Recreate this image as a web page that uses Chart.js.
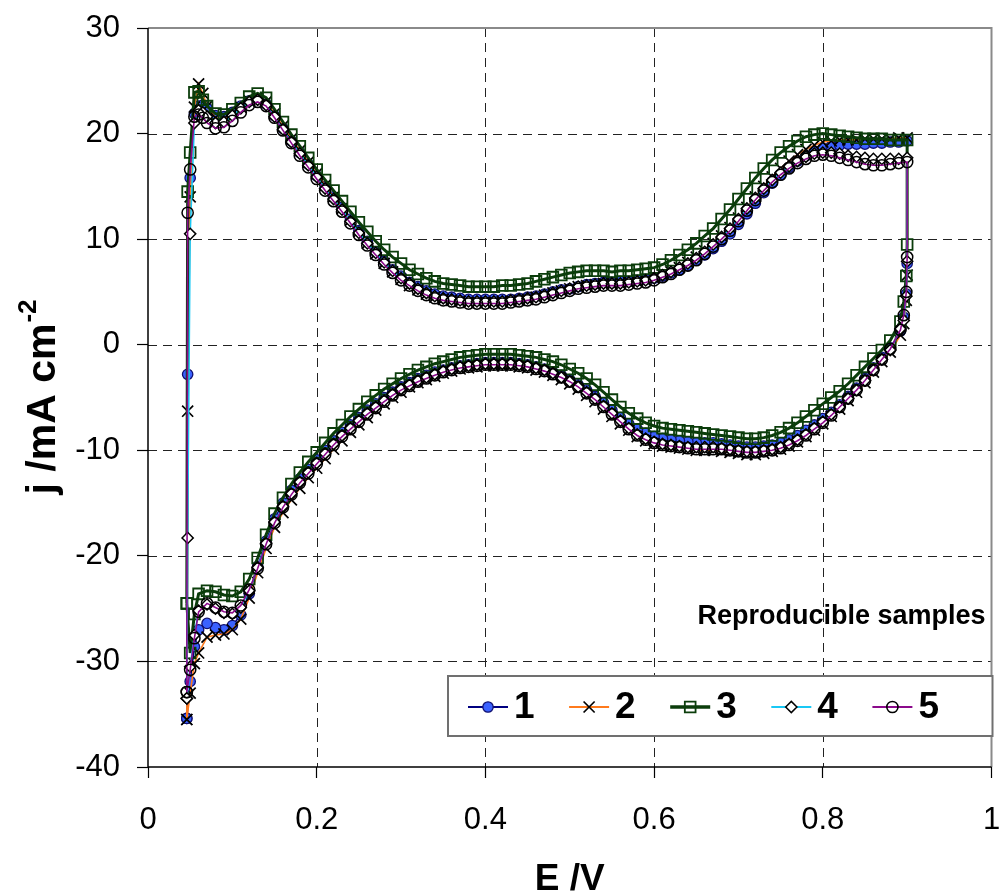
<!DOCTYPE html>
<html>
<head>
<meta charset="utf-8">
<title>Cyclic voltammograms</title>
<script src="https://cdn.jsdelivr.net/npm/chart.js@4.4.0/dist/chart.umd.min.js"></script>
<style>
  html, body { margin: 0; padding: 0; background: #fff; }
  #wrap { width: 1001px; height: 894px; }
</style>
</head>
<body>
<div id="wrap"><canvas id="cv" width="1001" height="894"></canvas></div>
<script>
'use strict';

var seriesNames = ['1', '2', '3', '4', '5'];
var xTickValues = [0, 0.2, 0.4, 0.6, 0.8, 1];
var xTickLabels = ['0', '0.2', '0.4', '0.6', '0.8', '1'];
var yTickValues = [-40, -30, -20, -10, 0, 10, 20, 30];
var yTickLabels = ['-40', '-30', '-20', '-10', '0', '10', '20', '30'];

// potential of each sample, forward (anodic) then reverse (cathodic) sweep, V
var eForward = [0.046, 0.047, 0.05, 0.055, 0.06, 0.065, 0.07, 0.08, 0.09, 0.10,
  0.11, 0.12, 0.13, 0.14, 0.15, 0.16, 0.17, 0.18, 0.19, 0.20,
  0.21, 0.22, 0.23, 0.24, 0.25, 0.26, 0.27, 0.28, 0.29, 0.30,
  0.31, 0.32, 0.33, 0.34, 0.35, 0.36, 0.37, 0.38, 0.39, 0.40,
  0.41, 0.42, 0.43, 0.44, 0.45, 0.46, 0.47, 0.48, 0.49, 0.50,
  0.51, 0.52, 0.53, 0.54, 0.55, 0.56, 0.57, 0.58, 0.59, 0.60,
  0.61, 0.62, 0.63, 0.64, 0.65, 0.66, 0.67, 0.68, 0.69, 0.70,
  0.71, 0.72, 0.73, 0.74, 0.75, 0.76, 0.77, 0.78, 0.79, 0.80,
  0.81, 0.82, 0.83, 0.84, 0.85, 0.86, 0.87, 0.88, 0.89, 0.90];
var eReverse = [0.90, 0.899, 0.896, 0.892, 0.88, 0.87, 0.86, 0.85, 0.84, 0.83,
  0.82, 0.81, 0.80, 0.79, 0.78, 0.77, 0.76, 0.75, 0.74, 0.73,
  0.72, 0.71, 0.70, 0.69, 0.68, 0.67, 0.66, 0.65, 0.64, 0.63,
  0.62, 0.61, 0.60, 0.59, 0.58, 0.57, 0.56, 0.55, 0.54, 0.53,
  0.52, 0.51, 0.50, 0.49, 0.48, 0.47, 0.46, 0.45, 0.44, 0.43,
  0.42, 0.41, 0.40, 0.39, 0.38, 0.37, 0.36, 0.35, 0.34, 0.33,
  0.32, 0.31, 0.30, 0.29, 0.28, 0.27, 0.26, 0.25, 0.24, 0.23,
  0.22, 0.21, 0.20, 0.19, 0.18, 0.17, 0.16, 0.15, 0.14, 0.13,
  0.12, 0.11, 0.10, 0.09, 0.08, 0.07, 0.06, 0.055, 0.05, 0.046];

// current density, mA cm-2
var jForward1 = [-35.4, -2.8, 15.8, 21.9, 22.6, 22.7, 22.4, 21.7, 21.6, 22.0,
  22.6, 23.1, 23.3, 22.8, 21.7, 20.5, 19.3, 18.2, 17.1, 16.0,
  15.0, 14.0, 13.0, 11.9, 10.8, 9.8, 8.8, 7.9, 7.1, 6.5,
  5.9, 5.5, 5.1, 4.8, 4.6, 4.5, 4.4, 4.3, 4.3, 4.3,
  4.3, 4.3, 4.3, 4.4, 4.5, 4.6, 4.8, 5.0, 5.2, 5.3,
  5.5, 5.7, 5.8, 5.9, 5.9, 6.0, 6.0, 6.1, 6.2, 6.3,
  6.5, 6.8, 7.1, 7.5, 8.0, 8.5, 9.1, 9.8, 10.5, 11.4,
  12.4, 13.4, 14.4, 15.3, 16.1, 16.8, 17.4, 17.9, 18.3, 18.6,
  18.8, 18.9, 19.0, 19.0, 19.0, 19.1, 19.1, 19.2, 19.2, 19.3];
var jReverse1 = [7.7, 4.8, 2.6, 1.3, -0.3, -1.2, -2.2, -3.2, -4.1, -4.9,
  -5.7, -6.4, -7.0, -7.6, -8.1, -8.6, -9.0, -9.3, -9.5, -9.6,
  -9.7, -9.7, -9.6, -9.5, -9.4, -9.3, -9.3, -9.3, -9.2, -9.1,
  -9.0, -8.9, -8.7, -8.4, -8.0, -7.5, -6.9, -6.2, -5.5, -4.9,
  -4.3, -3.8, -3.3, -2.9, -2.6, -2.3, -2.1, -1.9, -1.8, -1.7,
  -1.7, -1.7, -1.7, -1.8, -1.9, -2.0, -2.2, -2.4, -2.6, -2.9,
  -3.2, -3.6, -4.0, -4.5, -5.0, -5.6, -6.2, -6.9, -7.6, -8.3,
  -9.1, -10.0, -10.9, -11.8, -12.7, -13.8, -15.0, -16.5, -18.6, -21.0,
  -23.6, -25.6, -26.6, -27.0, -26.8, -26.4, -27.0, -28.6, -31.9, -35.4];

var jForward2 = [-35.5, -6.3, 14.0, 22.5, 24.7, 23.8, 22.6, 21.5, 21.4, 21.9,
  22.5, 23.1, 23.4, 23.0, 21.9, 20.7, 19.5, 18.4, 17.3, 16.2,
  15.1, 14.0, 12.9, 11.8, 10.7, 9.6, 8.6, 7.7, 6.9, 6.2,
  5.6, 5.2, 4.8, 4.5, 4.3, 4.2, 4.1, 4.0, 4.0, 4.0,
  4.0, 4.1, 4.1, 4.2, 4.3, 4.5, 4.7, 4.9, 5.1, 5.3,
  5.5, 5.6, 5.7, 5.8, 5.8, 5.9, 5.9, 6.0, 6.1, 6.3,
  6.6, 6.9, 7.3, 7.8, 8.3, 8.9, 9.6, 10.3, 11.1, 12.0,
  13.0, 14.0, 15.0, 15.9, 16.7, 17.4, 18.0, 18.5, 18.9, 19.2,
  19.3, 19.4, 19.4, 19.4, 19.5, 19.5, 19.5, 19.5, 19.6, 19.6];
var jReverse2 = [6.6, 4.2, 2.0, 0.9, -0.7, -1.6, -2.6, -3.6, -4.5, -5.3,
  -6.1, -6.8, -7.5, -8.1, -8.7, -9.2, -9.6, -9.9, -10.1, -10.3,
  -10.4, -10.4, -10.3, -10.2, -10.1, -10.0, -10.0, -10.0, -9.9, -9.8,
  -9.7, -9.6, -9.4, -9.1, -8.7, -8.1, -7.5, -6.8, -6.1, -5.4,
  -4.8, -4.2, -3.7, -3.3, -2.9, -2.6, -2.4, -2.2, -2.1, -2.0,
  -2.0, -2.0, -2.0, -2.1, -2.2, -2.3, -2.5, -2.7, -3.0, -3.3,
  -3.6, -4.0, -4.5, -5.0, -5.6, -6.2, -6.9, -7.6, -8.3, -9.1,
  -9.9, -10.8, -11.7, -12.6, -13.6, -14.7, -15.9, -17.3, -19.3, -21.6,
  -24.0, -26.0, -27.0, -27.4, -27.5, -27.7, -29.2, -30.2, -33.0, -35.5];

var jForward3 = [-24.5, 14.5, 18.2, 23.9, 24.0, 23.2, 22.6, 21.9, 21.8, 22.3,
  22.9, 23.5, 23.8, 23.4, 22.3, 21.1, 19.9, 18.8, 17.7, 16.6,
  15.6, 14.6, 13.6, 12.6, 11.6, 10.7, 9.8, 9.0, 8.3, 7.7,
  7.1, 6.7, 6.3, 6.0, 5.8, 5.7, 5.6, 5.5, 5.5, 5.5,
  5.5, 5.6, 5.6, 5.7, 5.8, 6.0, 6.2, 6.4, 6.6, 6.8,
  6.9, 7.0, 7.0, 7.0, 6.9, 7.0, 7.0, 7.1, 7.2, 7.3,
  7.6, 8.0, 8.5, 9.0, 9.6, 10.3, 11.0, 11.9, 12.8, 13.8,
  14.8, 15.8, 16.7, 17.5, 18.2, 18.8, 19.3, 19.7, 19.9, 20.0,
  19.9, 19.8, 19.7, 19.6, 19.5, 19.5, 19.5, 19.4, 19.4, 19.4];
var jReverse3 = [9.5, 6.5, 4.1, 2.2, 0.4, -0.5, -1.3, -2.1, -2.9, -3.7,
  -4.4, -5.0, -5.6, -6.2, -6.8, -7.4, -7.9, -8.3, -8.6, -8.8,
  -8.9, -8.9, -8.8, -8.7, -8.6, -8.5, -8.4, -8.3, -8.2, -8.1,
  -8.0, -7.9, -7.7, -7.4, -7.0, -6.5, -5.9, -5.2, -4.5, -3.8,
  -3.2, -2.7, -2.3, -1.9, -1.6, -1.4, -1.2, -1.1, -1.0, -0.9,
  -0.9, -0.9, -0.9, -1.0, -1.1, -1.2, -1.4, -1.6, -1.8, -2.1,
  -2.4, -2.8, -3.2, -3.7, -4.2, -4.8, -5.4, -6.1, -6.8, -7.6,
  -8.4, -9.3, -10.2, -11.1, -12.1, -13.2, -14.5, -16.0, -18.0, -20.2,
  -22.2, -23.4, -23.8, -23.7, -23.4, -23.3, -23.6, -25.5, -29.2, -24.5];

var jForward4 = [-33.5, -18.3, 10.5, 21.0, 22.2, 22.0, 21.6, 21.0, 21.1, 21.7,
  22.4, 23.0, 23.2, 22.7, 21.6, 20.4, 19.2, 18.1, 17.0, 15.9,
  14.8, 13.8, 12.8, 11.7, 10.6, 9.6, 8.7, 7.8, 7.0, 6.3,
  5.8, 5.3, 4.9, 4.6, 4.4, 4.3, 4.2, 4.1, 4.1, 4.1,
  4.1, 4.1, 4.2, 4.3, 4.4, 4.5, 4.7, 4.9, 5.1, 5.3,
  5.5, 5.6, 5.7, 5.8, 5.8, 5.8, 5.9, 6.0, 6.1, 6.3,
  6.6, 6.9, 7.3, 7.7, 8.2, 8.8, 9.5, 10.2, 11.0, 11.9,
  12.9, 13.9, 14.8, 15.6, 16.3, 16.9, 17.4, 17.8, 18.1, 18.2,
  18.2, 18.1, 17.9, 17.8, 17.7, 17.6, 17.6, 17.6, 17.6, 17.7];
var jReverse4 = [7.9, 4.6, 2.3, 1.5, -0.5, -1.4, -2.4, -3.4, -4.3, -5.1,
  -5.9, -6.6, -7.3, -7.9, -8.5, -9.0, -9.4, -9.7, -9.9, -10.0,
  -10.1, -10.1, -10.0, -9.9, -9.8, -9.7, -9.7, -9.7, -9.7, -9.6,
  -9.5, -9.4, -9.2, -8.9, -8.5, -7.9, -7.2, -6.5, -5.8, -5.1,
  -4.5, -4.0, -3.5, -3.1, -2.7, -2.4, -2.2, -2.0, -1.9, -1.8,
  -1.8, -1.8, -1.8, -1.9, -2.0, -2.1, -2.3, -2.5, -2.8, -3.1,
  -3.4, -3.8, -4.2, -4.7, -5.3, -5.9, -6.5, -7.2, -7.9, -8.6,
  -9.4, -10.3, -11.2, -12.1, -13.0, -14.1, -15.3, -16.8, -18.8, -21.1,
  -23.3, -24.9, -25.5, -25.4, -25.0, -24.6, -25.2, -27.5, -30.5, -33.5];

var jForward5 = [-32.9, 12.5, 16.6, 21.6, 21.8, 21.5, 21.0, 20.5, 20.6, 21.2,
  22.0, 22.7, 23.0, 22.6, 21.5, 20.3, 19.1, 17.9, 16.8, 15.7,
  14.6, 13.6, 12.6, 11.5, 10.4, 9.4, 8.5, 7.6, 6.8, 6.1,
  5.6, 5.1, 4.7, 4.4, 4.2, 4.1, 4.0, 3.9, 3.9, 3.9,
  3.9, 3.9, 4.0, 4.1, 4.2, 4.3, 4.5, 4.7, 4.9, 5.1,
  5.3, 5.4, 5.5, 5.6, 5.6, 5.6, 5.7, 5.8, 5.9, 6.1,
  6.4, 6.7, 7.1, 7.5, 8.0, 8.6, 9.3, 10.0, 10.8, 11.7,
  12.7, 13.7, 14.6, 15.4, 16.1, 16.7, 17.2, 17.6, 17.9, 18.0,
  17.9, 17.7, 17.5, 17.3, 17.1, 17.0, 17.0, 17.1, 17.2, 17.3];
var jReverse5 = [8.3, 5.0, 2.8, 1.4, -0.4, -1.4, -2.4, -3.4, -4.3, -5.1,
  -5.9, -6.7, -7.4, -8.0, -8.6, -9.1, -9.5, -9.8, -10.0, -10.1,
  -10.2, -10.2, -10.1, -10.0, -9.9, -9.9, -9.9, -9.9, -9.8, -9.7,
  -9.6, -9.5, -9.3, -9.0, -8.6, -8.0, -7.3, -6.6, -5.9, -5.2,
  -4.6, -4.0, -3.5, -3.1, -2.8, -2.5, -2.3, -2.1, -2.0, -1.9,
  -1.9, -1.9, -1.9, -2.0, -2.1, -2.2, -2.4, -2.6, -2.9, -3.2,
  -3.5, -3.9, -4.3, -4.8, -5.4, -6.0, -6.6, -7.3, -8.0, -8.7,
  -9.5, -10.4, -11.3, -12.2, -13.1, -14.2, -15.4, -16.9, -18.9, -21.2,
  -23.2, -24.7, -25.4, -25.3, -24.9, -24.5, -25.3, -27.8, -30.8, -32.9];

var FONT = '"Liberation Sans", Arial, Helvetica, sans-serif';
var PLOT = {left: 148, top: 28, right: 992, bottom: 767};

function sweep(forward, reverse) {
  var pts = eForward.map(function(e, i) {
    return {x: e, y: forward[i]};
  });
  return pts.concat(eReverse.map(function(e, i) {
    return {x: e, y: reverse[i]};
  }));
}

var styles = [
  {line: '#000080', width: 1.6, point: 'circle', radius: 5.2, fill: '#3b62ff', edge: '#101070', edgeWidth: 1.3},
  {line: '#ff7a1c', width: 1.6, point: 'crossRot', radius: 7.8, fill: '#000', edge: '#000', edgeWidth: 1.7},
  {line: '#0b3d0b', width: 3, point: 'rect', radius: 7.6, fill: 'rgba(0,0,0,0)', edge: '#0b3d0b', edgeWidth: 1.8},
  {line: '#19c8f5', width: 1.6, point: 'rectRot', radius: 5.6, fill: '#fff', edge: '#000', edgeWidth: 1.5},
  {line: '#8b0a8b', width: 1.6, point: 'circle', radius: 5.6, fill: 'rgba(0,0,0,0)', edge: '#000', edgeWidth: 1.5}
];

var sweeps = [
  sweep(jForward1, jReverse1),
  sweep(jForward2, jReverse2),
  sweep(jForward3, jReverse3),
  sweep(jForward4, jReverse4),
  sweep(jForward5, jReverse5)
];

var datasets = sweeps.map(function(data, i) {
  var s = styles[i];
  return {
    label: seriesNames[i],
    data: data,
    showLine: true,
    fill: false,
    tension: 0,
    borderColor: s.line,
    borderWidth: s.width,
    pointStyle: s.point,
    pointRadius: s.radius,
    pointBackgroundColor: s.fill,
    pointBorderColor: s.edge,
    pointBorderWidth: s.edgeWidth,
    order: seriesNames.length - i
  };
});

function noScalePadding(scale) {
  scale.paddingLeft = 0;
  scale.paddingRight = 0;
  scale.paddingTop = 0;
  scale.paddingBottom = 0;
}

// dashed grid plus the Excel-like plot frame
var frame = {
  id: 'frame',
  beforeDatasetsDraw: function(chart) {
    var ctx = chart.ctx;
    var a = chart.chartArea;
    var sx = chart.scales.x, sy = chart.scales.y;
    ctx.save();
    ctx.strokeStyle = '#222';
    ctx.lineWidth = 1;
    ctx.setLineDash([9, 6]);
    xTickValues.slice(1, -1).forEach(function(v) {
      var px = Math.round(sx.getPixelForValue(v)) + 0.5;
      ctx.beginPath();
      ctx.moveTo(px, a.top);
      ctx.lineTo(px, a.bottom);
      ctx.stroke();
    });
    yTickValues.slice(1, -1).forEach(function(v) {
      var py = Math.round(sy.getPixelForValue(v)) + 0.5;
      ctx.beginPath();
      ctx.moveTo(a.left, py);
      ctx.lineTo(a.right, py);
      ctx.stroke();
    });
    ctx.setLineDash([]);
    ctx.strokeStyle = '#8a8a8a';
    ctx.lineWidth = 2;
    ctx.beginPath();
    ctx.moveTo(a.left, a.top);
    ctx.lineTo(a.right, a.top);
    ctx.lineTo(a.right, a.bottom);
    ctx.stroke();
    ctx.strokeStyle = '#000';
    ctx.lineWidth = 1.5;
    ctx.beginPath();
    ctx.moveTo(a.left, a.top);
    ctx.lineTo(a.left, a.bottom);
    ctx.lineTo(a.right, a.bottom);
    ctx.stroke();
    ctx.restore();
  },
  afterDraw: function(chart) {
    var ctx = chart.ctx;
    var a = chart.chartArea;
    ctx.save();

    // axis titles
    ctx.fillStyle = '#000';
    ctx.font = 'bold 37px ' + FONT;
    ctx.textAlign = 'center';
    ctx.textBaseline = 'alphabetic';
    ctx.fillText('E /V', (a.left + a.right) / 2, 890);

    ctx.translate(44, (a.top + a.bottom) / 2);
    ctx.rotate(-Math.PI / 2);
    var main = 'j /mA cm';
    var sup = '-2';
    ctx.font = 'bold 41px ' + FONT;
    var w1 = ctx.measureText(main).width;
    ctx.font = 'bold 26px ' + FONT;
    var w2 = ctx.measureText(sup).width;
    var x0 = -(w1 + w2) / 2;
    ctx.textAlign = 'left';
    ctx.textBaseline = 'middle';
    ctx.font = 'bold 41px ' + FONT;
    ctx.fillText(main, x0, 0);
    ctx.font = 'bold 26px ' + FONT;
    ctx.fillText(sup, x0 + w1 + 1, -15);
    ctx.setTransform(1, 0, 0, 1, 0, 0);

    // note above the legend
    ctx.font = 'bold 27px ' + FONT;
    ctx.textAlign = 'right';
    ctx.textBaseline = 'middle';
    ctx.fillText('Reproducible samples', a.right - 6, 617);

    // legend box
    var bx = 448, by = 676, bw = a.right + 1 - bx, bh = 60;
    ctx.fillStyle = '#fff';
    ctx.fillRect(bx, by, bw, bh);
    ctx.strokeStyle = '#707070';
    ctx.lineWidth = 2;
    ctx.strokeRect(bx, by, bw, bh);
    var cy = by + 31;
    seriesNames.forEach(function(name, i) {
      var s = styles[i];
      var lx = 468 + i * 101.1;
      ctx.strokeStyle = s.line;
      ctx.lineWidth = s.width + 0.4;
      ctx.beginPath();
      ctx.moveTo(lx, cy);
      ctx.lineTo(lx + 40, cy);
      ctx.stroke();
      ctx.fillStyle = s.fill;
      ctx.strokeStyle = s.edge;
      ctx.lineWidth = s.edgeWidth;
      Chart.helpers.drawPoint(ctx, {
        pointStyle: s.point,
        radius: s.radius,
        borderWidth: s.edgeWidth,
        rotation: 0
      }, lx + 20, cy);
      ctx.fillStyle = '#000';
      ctx.font = 'bold 37px ' + FONT;
      ctx.textAlign = 'left';
      ctx.textBaseline = 'middle';
      ctx.fillText(name, lx + 46, cy + 1);
    });
    ctx.restore();
  }
};

var chart = new Chart(document.getElementById('cv').getContext('2d'), {
  type: 'scatter',
  data: {datasets: datasets},
  options: {
    responsive: false,
    animation: false,
    devicePixelRatio: 1,
    layout: {padding: {top: PLOT.top, right: 1001 - PLOT.right, left: 0, bottom: 0}},
    plugins: {
      legend: {display: false},
      tooltip: {enabled: false}
    },
    scales: {
      x: {
        type: 'linear',
        min: 0,
        max: 1,
        afterBuildTicks: function(scale) {
          scale.ticks = xTickValues.map(function(v) { return {value: v}; });
        },
        afterFit: function(scale) {
          scale.height = 894 - PLOT.bottom;
          noScalePadding(scale);
        },
        ticks: {
          color: '#000',
          font: {family: FONT, size: 31},
          padding: 24,
          maxRotation: 0,
          callback: function(value, index) { return xTickLabels[index]; }
        },
        grid: {drawOnChartArea: false, drawTicks: true, tickLength: 11, tickColor: '#000', tickWidth: 1.2},
        border: {display: false}
      },
      y: {
        type: 'linear',
        min: -40,
        max: 30,
        afterBuildTicks: function(scale) {
          scale.ticks = yTickValues.map(function(v) { return {value: v}; });
        },
        afterFit: function(scale) {
          scale.width = PLOT.left;
          noScalePadding(scale);
        },
        ticks: {
          color: '#000',
          font: {family: FONT, size: 31},
          padding: 17,
          callback: function(value, index) { return yTickLabels[index]; }
        },
        grid: {drawOnChartArea: false, drawTicks: true, tickLength: 11, tickColor: '#000', tickWidth: 1.2},
        border: {display: false}
      }
    }
  },
  plugins: [frame]
});

// nudge the layout padding until the plot area sits where the reference has it
for (var k = 0; k < 2; k++) {
  var area = chart.chartArea;
  var pad = chart.options.layout.padding;
  if (Math.abs(area.top - PLOT.top) < 0.5 && Math.abs(area.right - PLOT.right) < 0.5 &&
      Math.abs(area.bottom - PLOT.bottom) < 0.5) {
    break;
  }
  pad.top += PLOT.top - area.top;
  pad.right += area.right - PLOT.right;
  pad.bottom += area.bottom - PLOT.bottom;
  chart.update();
}
</script>
</body>
</html>
